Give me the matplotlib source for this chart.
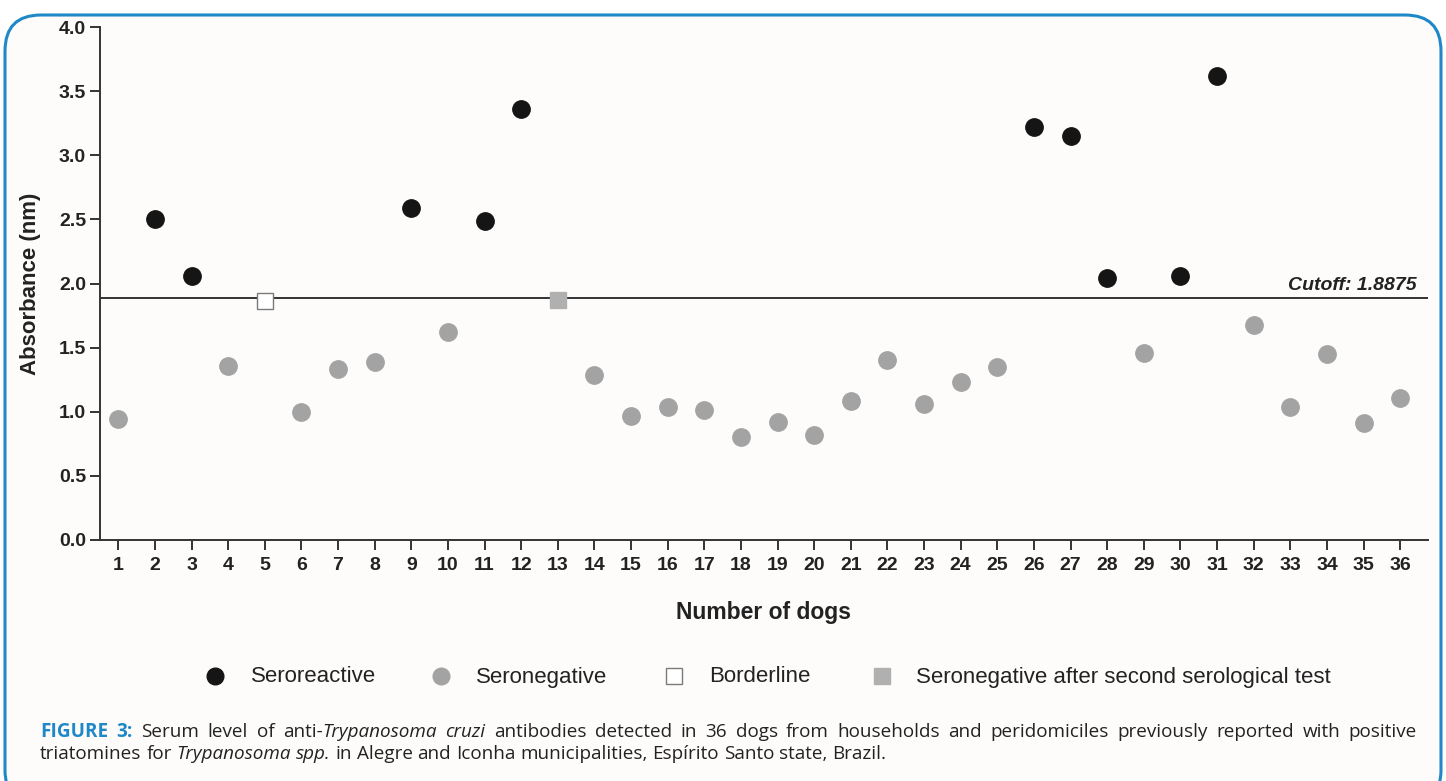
"""Serum anti-T. cruzi antibody levels in 36 dogs, with cutoff line."""

import matplotlib

matplotlib.use("Agg")
import matplotlib.pyplot as plt
from matplotlib.lines import Line2D
from matplotlib.patches import FancyBboxPatch
from matplotlib.transforms import IdentityTransform

W, H, DPI = 1446, 781, 100

# data
dogs = list(range(1, 37))
absorbance = [0.94, 2.50, 2.06, 1.36, 1.86, 1.00, 1.33, 1.39, 2.59, 1.62,
              2.49, 3.36, 1.87, 1.29, 0.97, 1.04, 1.01, 0.80, 0.92, 0.82,
              1.08, 1.40, 1.06, 1.23, 1.35, 3.22, 3.15, 2.04, 1.46, 2.06,
              3.62, 1.68, 1.04, 1.45, 0.91, 1.11]
status = ["neg", "pos", "pos", "neg", "border", "neg", "neg", "neg", "pos", "neg",
          "pos", "pos", "neg2", "neg", "neg", "neg", "neg", "neg", "neg", "neg",
          "neg", "neg", "neg", "neg", "neg", "pos", "pos", "pos", "neg", "pos",
          "pos", "neg", "neg", "neg", "neg", "neg"]
cutoff = 1.8875
yticks = [0.0, 0.5, 1.0, 1.5, 2.0, 2.5, 3.0, 3.5, 4.0]

legend_labels = {
    "pos": "Seroreactive",
    "neg": "Seronegative",
    "border": "Borderline",
    "neg2": "Seronegative after second serological test",
}
styles = {
    "pos": dict(marker="o", color="#151515", mec="#151515", ms=12.5),
    "neg": dict(marker="o", color="#a3a3a3", mec="#a3a3a3", ms=12.5),
    "border": dict(marker="s", color="white", mec="#7a7a7a", ms=11.5, mew=1.0),
    "neg2": dict(marker="s", color="#b0b0b0", mec="#b0b0b0", ms=12),
}

BG = "#fdfcfb"
BLUE = "#1f88c6"
TEXT = "#222222"
CHART_FONT = "Liberation Sans"
CAP_FONT = "Open Sans"


def fx(x):
    return x / W


def fy(y):
    return 1 - y / H


fig = plt.figure(figsize=(W / DPI, H / DPI), dpi=DPI, facecolor="white")

# rounded frame, kept behind the axes
frame = FancyBboxPatch((5, -25), 1436, 770 + 25 - 4,
                       boxstyle="round,pad=0,rounding_size=36",
                       transform=IdentityTransform(), facecolor=BG,
                       edgecolor=BLUE, linewidth=2.2, zorder=-5)
fig.patches.append(frame)

ax = fig.add_axes([fx(100), fy(540), fx(1428) - fx(100), (540 - 27) / H])
ax.set_facecolor("none")
ax.set_xlim(0.5, 36.76)
ax.set_ylim(0, 4.0)

for key in ["neg", "pos", "border", "neg2"]:
    xs = [d for d, s in zip(dogs, status) if s == key]
    ys = [v for v, s in zip(absorbance, status) if s == key]
    ax.plot(xs, ys, linestyle="none", clip_on=False, zorder=3, **styles[key])

ax.axhline(cutoff, color="#333333", lw=1.4, zorder=2)
ax.text(36.45, cutoff + 0.03, "Cutoff: 1.8875", ha="right", va="bottom",
        fontsize=14, fontweight="bold", fontstyle="italic",
        family=CHART_FONT, color=TEXT)

for side in ["top", "right"]:
    ax.spines[side].set_visible(False)
for side in ["left", "bottom"]:
    ax.spines[side].set_color("#333333")
    ax.spines[side].set_linewidth(1.4)

ax.set_xticks(dogs)
ax.set_xticklabels([str(d) for d in dogs])
ax.set_yticks(yticks)
ax.set_yticklabels([f"{t:.1f}" for t in yticks])
ax.tick_params(axis="both", direction="out", length=7, width=1.4,
               color="#333333", labelsize=14, labelcolor=TEXT)
ax.tick_params(axis="x", pad=5)
ax.tick_params(axis="y", pad=3)
for lab in ax.get_xticklabels() + ax.get_yticklabels():
    lab.set_fontweight("bold")
    lab.set_family(CHART_FONT)

ax.set_xlabel("Number of dogs", fontsize=16.5, fontweight="bold",
              family=CHART_FONT, color=TEXT, labelpad=20)
ax.set_ylabel("Absorbance (nm)", fontsize=16, fontweight="bold",
              family=CHART_FONT, color=TEXT, labelpad=13)

# legend row, placed by hand
legend_pos = {"pos": (215, 251), "neg": (441, 476), "border": (674, 709),
              "neg2": (882, 916)}
for key, (mx, tx) in legend_pos.items():
    st = dict(styles[key])
    st["ms"] = st["ms"] - 0.5
    fig.add_artist(Line2D([fx(mx)], [fy(676)], linestyle="none",
                          transform=fig.transFigure, **st))
    fig.text(fx(tx), fy(677), legend_labels[key], ha="left", va="center",
             fontsize=16, family=CHART_FONT, color=TEXT)

# caption with mixed styles; first line justified
line1 = [
    [("FIGURE", "b")], [("3:", "b")], [("Serum", "r")], [("level", "r")],
    [("of", "r")], [("anti-", "r"), ("Trypanosoma", "i")], [("cruzi", "i")],
    [("antibodies", "r")], [("detected", "r")], [("in", "r")], [("36", "r")],
    [("dogs", "r")], [("from", "r")], [("households", "r")], [("and", "r")],
    [("peridomiciles", "r")], [("previously", "r")], [("reported", "r")],
    [("with", "r")], [("positive", "r")],
]
line2 = [
    [("triatomines", "r")], [("for", "r")], [("Trypanosoma", "i")],
    [("spp.", "i")], [("in", "r")], [("Alegre", "r")], [("and", "r")],
    [("Iconha", "r")], [("municipalities,", "r")], [("Espírito", "r")],
    [("Santo", "r")], [("state,", "r")], [("Brazil.", "r")],
]

CAP_SIZE = 13.6
renderer = fig.canvas.get_renderer()


def seg_props(kind):
    if kind == "b":
        return dict(fontweight="bold", color=BLUE)
    if kind == "i":
        return dict(fontstyle="italic", color=TEXT)
    return dict(color=TEXT)


def measure(s, kind):
    t = fig.text(0, 0, s, fontsize=CAP_SIZE, family=CAP_FONT, **seg_props(kind))
    w = t.get_window_extent(renderer).width
    t.remove()
    return w


def word_width(word):
    return sum(measure(s, k) for s, k in word)


def draw_word(word, x, y):
    for s, k in word:
        fig.text(fx(x), fy(y), s, ha="left", va="baseline", fontsize=CAP_SIZE,
                 family=CAP_FONT, **seg_props(k))
        x += measure(s, k)


space = measure("n n", "r") - measure("nn", "r")

widths1 = [word_width(w) for w in line1]
gap = (1417 - 40 - sum(widths1)) / (len(line1) - 1)
x = 40
for w, wd in zip(line1, widths1):
    draw_word(w, x, 737)
    x += wd + gap

x = 40
for w in line2:
    draw_word(w, x, 759)
    x += word_width(w) + space

fig.savefig("out.png", dpi=DPI, facecolor="white")
